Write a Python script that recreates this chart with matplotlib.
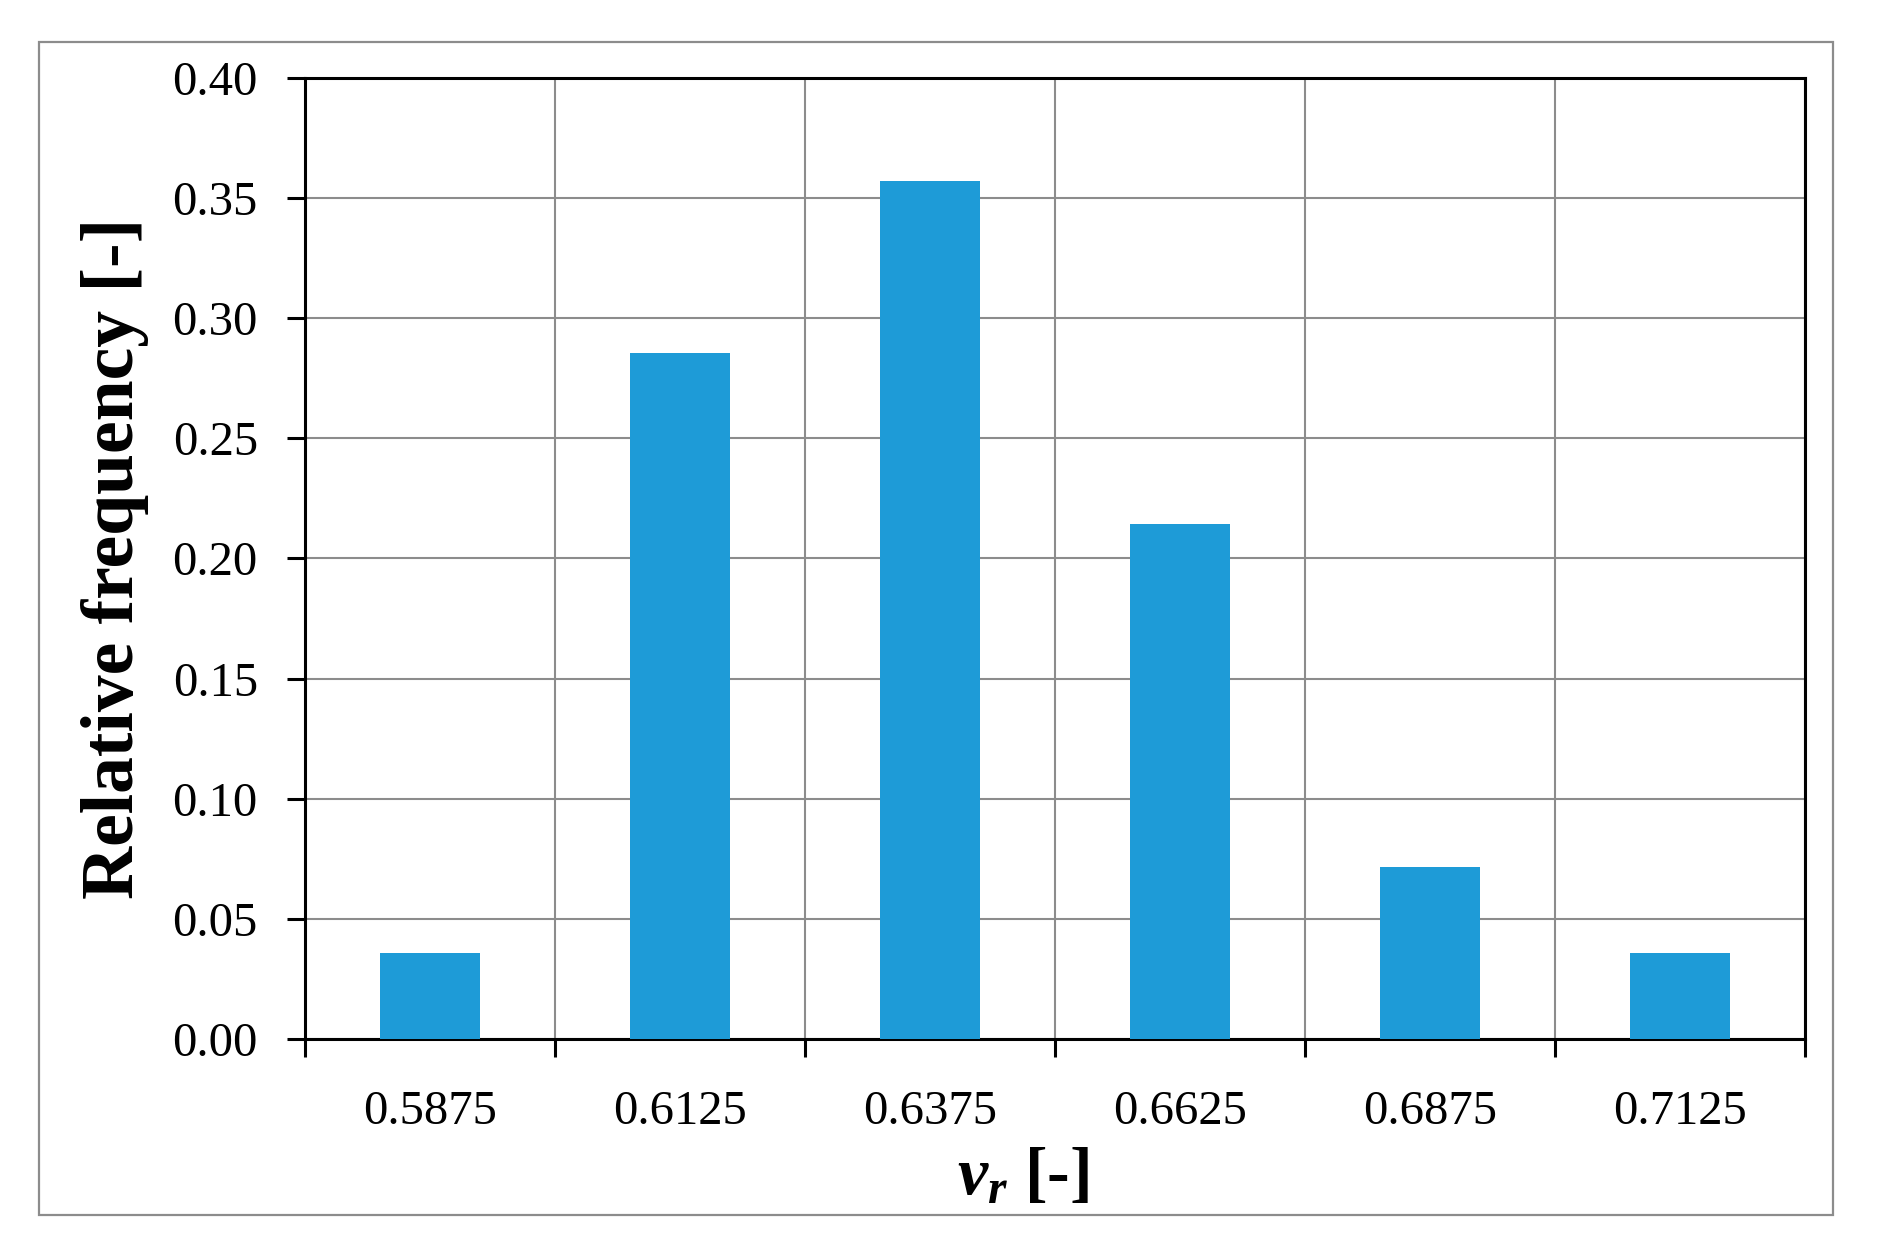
import numpy as np
import matplotlib
matplotlib.use("Agg")
import matplotlib.pyplot as plt
from matplotlib.patches import Rectangle

# bin centres and relative frequencies
bins = ["0.5875", "0.6125", "0.6375", "0.6625", "0.6875", "0.7125"]
freq = [0.0357, 0.2857, 0.3571, 0.2143, 0.0714, 0.0357]
yticks = [0.00, 0.05, 0.10, 0.15, 0.20, 0.25, 0.30, 0.35, 0.40]

plt.rcParams['font.family'] = ['Liberation Serif', 'DejaVu Serif']
plt.rcParams['mathtext.fontset'] = 'custom'
plt.rcParams['mathtext.rm'] = 'Liberation Serif:bold'
plt.rcParams['mathtext.it'] = 'Liberation Serif:italic:bold'
plt.rcParams['mathtext.bf'] = 'Liberation Serif:bold'

fig = plt.figure(figsize=(18.77, 12.48), dpi=100)
fig.patches.append(Rectangle((0.021, 0.0264), 0.9556, 0.9399, transform=fig.transFigure,
                             fill=False, edgecolor='#8c8c8c', linewidth=1.6))
ax = fig.add_axes([0.1625, 0.1675, 0.7992, 0.77])

x = np.arange(len(bins))
ax.bar(x, freq, width=0.4, color='#1e9bd7', zorder=3)

ax.set_xlim(-0.5, len(bins) - 0.5)
ax.set_ylim(0, 0.4)
ax.set_yticks(yticks)
ax.set_yticklabels([f"{v:.2f}" for v in yticks])
ax.set_xticks(np.arange(len(bins) + 1) - 0.5)
ax.set_xticklabels([])
ax.set_xticks(x, minor=True)
ax.set_xticklabels(bins, minor=True)

ax.grid(True, which='major', color='#8c8c8c', linewidth=1.5, zorder=0)
ax.set_axisbelow(True)
for s in ax.spines.values():
    s.set_color('black')
    s.set_linewidth(2.2)
ax.tick_params(axis='both', which='major', length=13, width=2.2, direction='out',
               labelsize=35, color='black')
ax.tick_params(axis='y', pad=21)
ax.tick_params(axis='x', which='minor', length=0, pad=37, labelsize=35)

ax.set_ylabel("Relative frequency [-]", fontsize=53, fontweight='bold')
ax.yaxis.set_label_coords(-0.104, 0.5)
ax.set_xlabel(r"$v_r$ [-]", fontsize=49, fontweight='bold')
ax.xaxis.set_label_coords(0.479, -0.113)

fig.savefig("out.png", dpi=100)
